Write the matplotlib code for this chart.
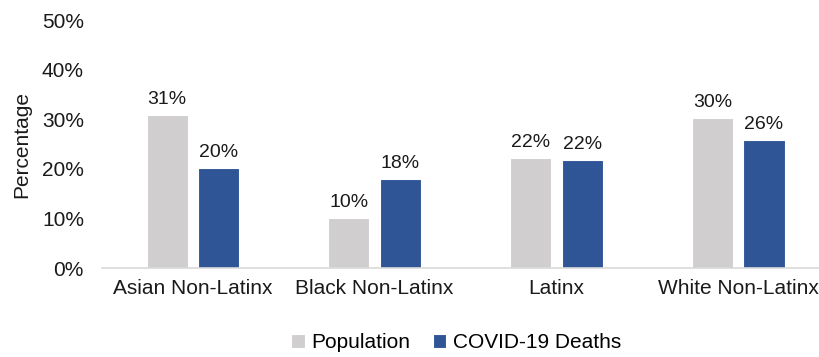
import matplotlib
matplotlib.use("Agg")
import matplotlib.pyplot as plt
import numpy as np
from matplotlib.ticker import FuncFormatter

categories = ["Asian Non-Latinx", "Black Non-Latinx", "Latinx", "White Non-Latinx"]
population = [30.9, 10.1, 22.1, 30.2]
covid_deaths = [20.2, 17.9, 21.7, 25.9]
series_names = ["Population", "COVID-19 Deaths"]

plt.rcParams['font.family'] = ['Liberation Sans', 'DejaVu Sans']

fig = plt.figure(figsize=(8.2, 3.57), dpi=100)
ax = fig.add_axes([102/820, 89/357, 718/820, (268-20)/357])

x = np.arange(len(categories))
w = 0.226
off = 0.142
gray = "#D0CECE"
blue = "#2F5597"
b1 = ax.bar(x - off, population, w, color=gray, edgecolor="white", linewidth=0.8, label=series_names[0])
b2 = ax.bar(x + off, covid_deaths, w, color=blue, edgecolor="white", linewidth=0.8, label=series_names[1])

for bars, vals in ((b1, population), (b2, covid_deaths)):
    for r, v in zip(bars, vals):
        ax.annotate(f"{round(v):.0f}%", (r.get_x() + r.get_width()/2, v),
                    xytext=(0, 5), textcoords="offset points", ha="center", va="bottom",
                    fontsize=14, color="#1a1a1a")

ax.set_ylim(0, 50)
ax.set_xlim(-0.5, 3.45)
ax.set_yticks(range(0, 51, 10))
ax.yaxis.set_major_formatter(FuncFormatter(lambda v, p: f"{v:.0f}%"))
ax.set_xticks(x)
ax.set_xticklabels(categories)
ax.tick_params(axis="both", length=0, labelsize=15, colors="#1a1a1a")
ax.tick_params(axis="y", pad=13)
ax.tick_params(axis="x", pad=8)
for s in ["top", "right", "left"]:
    ax.spines[s].set_visible(False)
ax.spines["bottom"].set_color("#D9D9D9")
ax.spines["bottom"].set_linewidth(1.2)
ax.set_ylabel("Percentage", fontsize=15, color="#1a1a1a", labelpad=8)

fig.legend(handles=[b1, b2], loc="center", bbox_to_anchor=(456/820, 1 - 343/357),
           ncol=2, frameon=False, fontsize=15, handlelength=0.65, handleheight=0.65,
           handletextpad=0.3, columnspacing=1.1)

fig.savefig("out.png", dpi=100, facecolor="white")
